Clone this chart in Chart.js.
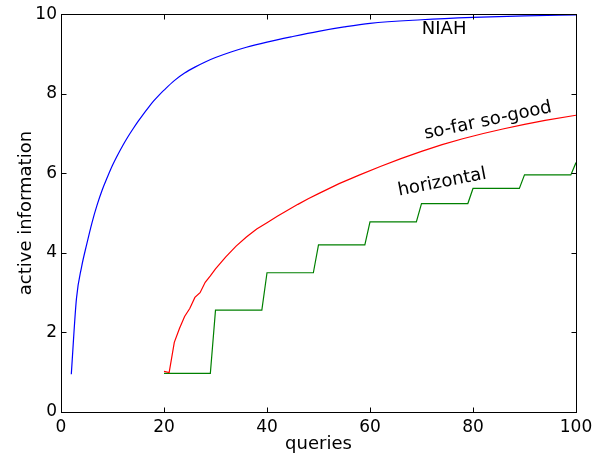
<!DOCTYPE html>
<html>
<head>
<meta charset="utf-8">
<script src="https://cdn.jsdelivr.net/npm/chart.js@4.4.0/dist/chart.umd.min.js"></script>
<style>
  html, body { margin: 0; padding: 0; background: #fff; }
</style>
</head>
<body>
<canvas id="chart" width="604" height="455"></canvas>
<script>
// NIAH curve
const niahQ = [2, 3, 4, 5, 6, 7, 8, 9, 10, 11, 12, 13, 14, 15, 16, 17, 18, 19, 20, 22, 24, 26, 28, 30, 33, 36, 40, 45, 50, 55, 60, 70, 80, 90, 100];
const niahInfo = [0.95, 2.85, 3.65, 4.22, 4.75, 5.2, 5.58, 5.9, 6.2, 6.46, 6.7, 6.92, 7.12, 7.31, 7.49, 7.66, 7.82, 7.96, 8.09, 8.33, 8.52, 8.67, 8.8, 8.91, 9.05, 9.17, 9.3, 9.44, 9.57, 9.68, 9.77, 9.86, 9.92, 9.96, 9.98];

// so-far so-good curve
const sfsgQ = [20, 21, 22, 23, 24, 25, 26, 27, 28, 29, 30, 32, 34, 36, 38, 40, 42, 44, 46, 48, 50, 54, 58, 62, 66, 70, 74, 78, 82, 86, 90, 94, 100];
const sfsgInfo = [1.02, 0.99, 1.75, 2.1, 2.4, 2.6, 2.88, 3.0, 3.26, 3.42, 3.6, 3.9, 4.17, 4.4, 4.6, 4.76, 4.92, 5.07, 5.22, 5.36, 5.49, 5.74, 5.96, 6.17, 6.37, 6.55, 6.72, 6.87, 7.0, 7.12, 7.23, 7.33, 7.46];

// horizontal (step) curve
const horizQ = [20, 29, 30, 39, 40, 49, 50, 59, 60, 69, 70, 79, 80, 89, 90, 99, 100];
const horizInfo = [0.97, 0.97, 2.56, 2.56, 3.5, 3.5, 4.2, 4.2, 4.78, 4.78, 5.24, 5.24, 5.62, 5.62, 5.96, 5.96, 6.27];

// text labels next to the curves: [text, q, info, angle in degrees]
const curveLabels = [
  ["NIAH", 74.4, 9.62, 0],
  ["so-far so-good", 82.9, 7.32, -12],
  ["horizontal", 74.0, 5.77, -11]
];

const FONT = "DejaVu Sans";

function points(xs, ys) {
  return xs.map((x, i) => ({ x: x, y: ys[i] }));
}

// box around the plot, ticks pointing inwards, curve labels
const framePlugin = {
  id: "frame",
  afterDraw(chart) {
    const ctx = chart.ctx;
    const a = chart.chartArea;
    const xs = chart.scales.x, ys = chart.scales.y;
    const l = Math.round(a.left) + 0.5, r = Math.round(a.right) + 0.5;
    const t = Math.round(a.top) + 0.5, b = Math.round(a.bottom) + 0.5;
    ctx.save();
    ctx.strokeStyle = "#000";
    ctx.lineWidth = 1;
    ctx.strokeRect(l, t, r - l, b - t);
    ctx.beginPath();
    xs.ticks.forEach(tk => {
      const px = Math.round(xs.getPixelForValue(tk.value)) + 0.5;
      ctx.moveTo(px, b); ctx.lineTo(px, b - 5);
      ctx.moveTo(px, t); ctx.lineTo(px, t + 5);
    });
    ys.ticks.forEach(tk => {
      const py = Math.round(ys.getPixelForValue(tk.value)) + 0.5;
      ctx.moveTo(l, py); ctx.lineTo(l + 5, py);
      ctx.moveTo(r, py); ctx.lineTo(r - 5, py);
    });
    ctx.stroke();

    ctx.fillStyle = "#000";
    ctx.font = "18px '" + FONT + "'";
    ctx.textAlign = "center";
    ctx.textBaseline = "middle";
    curveLabels.forEach(([txt, q, v, ang]) => {
      ctx.save();
      ctx.translate(xs.getPixelForValue(q), ys.getPixelForValue(v));
      ctx.rotate(ang * Math.PI / 180);
      ctx.fillText(txt, 0, 0);
      ctx.restore();
    });
    ctx.restore();
  }
};

const ctx = document.getElementById("chart").getContext("2d");
new Chart(ctx, {
  type: "line",
  data: {
    datasets: [
      { label: "NIAH", data: points(niahQ, niahInfo), borderColor: "#0000ff", borderWidth: 1.2, pointRadius: 0, cubicInterpolationMode: "monotone", fill: false },
      { label: "so-far so-good", data: points(sfsgQ, sfsgInfo), borderColor: "#ff0000", borderWidth: 1.2, pointRadius: 0, tension: 0, fill: false },
      { label: "horizontal", data: points(horizQ, horizInfo), borderColor: "#008000", borderWidth: 1.2, pointRadius: 0, tension: 0, fill: false }
    ]
  },
  options: {
    responsive: false,
    animation: false,
    devicePixelRatio: 1,
    layout: { padding: { left: 0, top: 13, right: 28, bottom: 0 } },
    plugins: { legend: { display: false }, tooltip: { enabled: false } },
    scales: {
      x: {
        type: "linear", min: 0, max: 100,
        grid: { display: false, drawTicks: false },
        border: { display: false },
        ticks: { stepSize: 20, padding: 5, color: "#000", font: { family: FONT, size: 17 } },
        title: { display: true, text: "queries", color: "#000", font: { family: FONT, size: 18 }, padding: { top: 0, bottom: -0.5 } },
        afterFit(scale) { scale.height = 43; }
      },
      y: {
        type: "linear", min: 0, max: 10,
        grid: { display: false, drawTicks: false },
        border: { display: false },
        ticks: { stepSize: 2, padding: 4, color: "#000", font: { family: FONT, size: 17 } },
        title: { display: true, text: "active information", color: "#000", font: { family: FONT, size: 18 }, padding: { top: 16, bottom: 0 } },
        afterFit(scale) { scale.width = 61; }
      }
    }
  },
  plugins: [framePlugin]
});
</script>
</body>
</html>
